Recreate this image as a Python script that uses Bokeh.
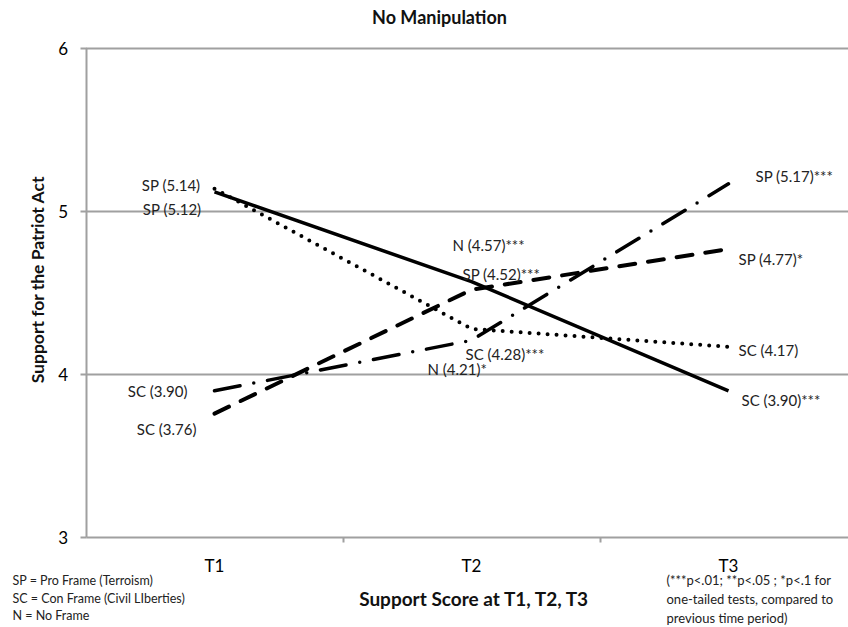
from bokeh.plotting import figure
from bokeh.models import FixedTicker, Label, ColumnDataSource
from bokeh.core.properties import value
from bokeh.embed import file_html
from bokeh.resources import INLINE

categories = ["T1", "T2", "T3"]
solid = [5.12, 4.57, 3.90]
dotted = [5.14, 4.28, 4.17]
dashed = [3.76, 4.52, 4.77]
dashdot = [3.90, 4.21, 5.17]
labels_solid = ["SP (5.12)", "N (4.57)***", "SC (3.90)***"]
labels_dotted = ["SP (5.14)", "SC (4.28)***", "SC (4.17)"]
labels_dashed = ["SC (3.76)", "SP (4.52)***", "SP (4.77)*"]
labels_dashdot = ["SC (3.90)", "N (4.21)*", "SP (5.17)***"]
y_ticks = [3, 4, 5, 6]
title_text = "No Manipulation"
x_title = "Support Score at T1, T2, T3"
y_title = "Support for the Patriot Act"
note_left = ["SP = Pro  Frame (Terroism)", "SC = Con  Frame (Civil LIberties)", "N = No Frame"]
note_right = ["(***p<.01; **p<.05 ; *p<.1 for", "one-tailed tests, compared to", "previous time period)"]

FONT = "Lato"
xs = list(range(1, len(categories) + 1))

W, H = 848, 627
XPX, YPX = 257.0, 163.0        # pixels per data unit
X0 = 1 - 214 / XPX             # data x at canvas left
Y1 = 6 + 48 / YPX              # data y at canvas top
x_lo, x_hi = X0, X0 + W / XPX
y_hi, y_lo = Y1, Y1 - H / YPX
AX_LEFT = 1 - 0.5              # category band edge where the value axis sits

p = figure(width=W, height=H, output_backend="svg", toolbar_location=None,
           x_range=(x_lo, x_hi), y_range=(y_lo, y_hi), min_border=0)
p.outline_line_color = None
p.background_fill_color = "white"

# axes placed inside the frame
p.yaxis.fixed_location = AX_LEFT
p.yaxis.bounds = (min(y_ticks), max(y_ticks))
p.yaxis.ticker = FixedTicker(ticks=y_ticks)
p.yaxis.axis_line_color = "#a0a0a0"
p.yaxis.axis_line_width = 2
p.yaxis.major_tick_line_color = "#a0a0a0"
p.yaxis.major_tick_line_width = 2
p.yaxis.major_tick_out = 6
p.yaxis.major_tick_in = 0
p.yaxis.minor_tick_line_color = None
p.yaxis.major_label_standoff = 12
p.yaxis.major_label_text_font = FONT
p.yaxis.major_label_text_font_size = "17px"
p.yaxis.major_label_text_color = "black"

p.xaxis.fixed_location = min(y_ticks)
p.xaxis.bounds = (AX_LEFT, x_hi)
p.xaxis.ticker = FixedTicker(ticks=xs, minor_ticks=[x + 0.5 for x in xs[:-1]])
p.xaxis.major_label_overrides = {x: c for x, c in zip(xs, categories)}
p.xaxis.axis_line_color = "#a0a0a0"
p.xaxis.axis_line_width = 2
p.xaxis.major_tick_line_color = None
p.xaxis.minor_tick_line_color = "#a0a0a0"
p.xaxis.minor_tick_line_width = 2
p.xaxis.minor_tick_out = 5
p.xaxis.minor_tick_in = 0
p.xaxis.major_label_standoff = 11
p.xaxis.major_label_text_font = FONT
p.xaxis.major_label_text_font_size = "17px"
p.xaxis.major_label_text_color = "black"

p.xgrid.grid_line_color = None
p.ygrid.grid_line_color = None
grid_vals = y_ticks[1:]
p.segment(x0=[AX_LEFT] * len(grid_vals), x1=[x_hi] * len(grid_vals),
          y0=grid_vals, y1=grid_vals, line_color="#a0a0a0", line_width=2)

# lines
p.line(xs, solid, line_color="black", line_width=3.5)
p.line(xs, dotted, line_color="black", line_width=4, line_dash="0 9", line_cap="round")
p.line(xs, dashed, line_color="black", line_width=4, line_dash="16 13", line_cap="round")
p.line(xs, dashdot, line_color="black", line_width=3.5, line_dash="26 14 0 14", line_cap="round")

# value labels
series = [solid, dotted, dashed, dashdot]
labels = [labels_solid, labels_dotted, labels_dashed, labels_dashdot]
x_off = [[-13, -19, 13], [-14, -6, 10], [-18, -9, 10], [-27, -44, 27]]
y_off = [[17, -37, 9], [-4, 25, 3], [15, -16, 10], [0, 29, -8]]
aligns = ["right", "left", "left"]
for vals, labs, xo, yo in zip(series, labels, x_off, y_off):
    src = ColumnDataSource(dict(x=xs, y=vals, t=labs, xo=xo, yo=yo, a=aligns))
    p.text(x="x", y="y", text="t", x_offset="xo", y_offset="yo", text_align="a",
           text_baseline="middle", source=src, text_font=value(FONT),
           text_font_size="15px", text_color="#222222")

# titles and notes (positions in canvas pixels converted to data)
def px_to_x(px):
    return x_lo + px / XPX

def py_to_y(py):
    return y_hi - py / YPX

p.add_layout(Label(x=px_to_x(439), y=py_to_y(16), text=title_text, text_align="center",
                   text_baseline="middle", text_font=FONT, text_font_style="bold",
                   text_font_size="18px", text_color="#111111"))
p.add_layout(Label(x=px_to_x(474), y=py_to_y(598), text=x_title, text_align="center",
                   text_baseline="middle", text_font=FONT, text_font_style="bold",
                   text_font_size="19px", text_color="#111111"))
p.add_layout(Label(x=px_to_x(37), y=py_to_y(279), text=y_title, text_align="center",
                   text_baseline="middle", angle=1.5708, text_font=FONT,
                   text_font_style="bold", text_font_size="17.5px", text_color="#111111"))
for i, t in enumerate(note_left):
    p.add_layout(Label(x=px_to_x(12), y=py_to_y(580 + 17.5 * i), text=t, text_align="left",
                       text_baseline="middle", text_font=FONT, text_font_size="12.5px",
                       text_color="#222222"))
for i, t in enumerate(note_right):
    p.add_layout(Label(x=px_to_x(666), y=py_to_y(579 + 19 * i), text=t, text_align="left",
                       text_baseline="middle", text_font=FONT, text_font_size="13px",
                       text_color="#222222"))

open("out.html", "w").write(file_html(p, INLINE))
